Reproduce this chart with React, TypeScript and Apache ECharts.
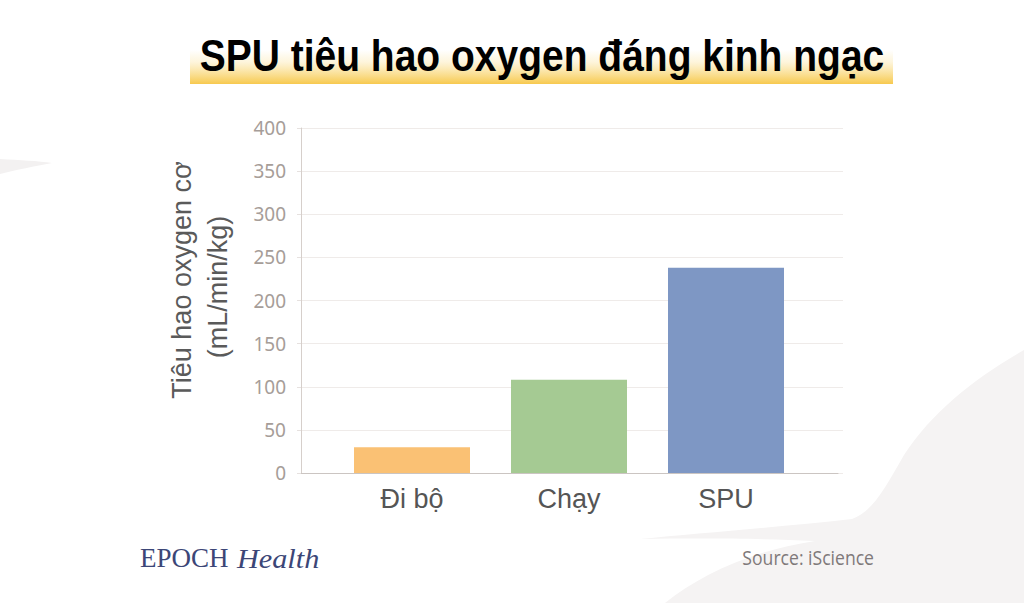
import { useEffect, useRef } from "react";
import * as echarts from "echarts";

const CATEGORIES = ["Đi bộ", "Chạy", "SPU"];
const VALUES = [30, 108, 238];
const BAR_COLORS = ["#FAC174", "#A5CA93", "#7E97C4"];
const Y_MIN = 0;
const Y_MAX = 400;
const Y_STEP = 50;

const TITLE = "SPU tiêu hao oxygen đáng kinh ngạc";
const Y_TITLE = ["Tiêu hao oxygen cơ", "(mL/min/kg)"];
const SOURCE = "Source: iScience";

// light background shapes
const BG_RIGHT =
  "M1024 350 C975 378 932 412 904 455 C884 490 872 512 852 519 C780 527 700 533 640 539 C720 538 770 539 815 541 C750 551 700 575 665 603 L1024 603 Z";
const BG_LEFT = "M0 159 C20 160 38 161 52 163 C35 166 16 170 0 174 Z";

echarts.graphic.registerShape("bgRight", echarts.graphic.extendPath(BG_RIGHT, {}));
echarts.graphic.registerShape("bgLeft", echarts.graphic.extendPath(BG_LEFT, {}));

export default function App() {
  const ref = useRef<HTMLDivElement>(null);

  useEffect(() => {
    if (!ref.current) return;
    const chart = echarts.init(ref.current, null, { renderer: "svg" });

    const hiddenY = { type: "value", min: Y_MIN, max: Y_MAX, interval: Y_STEP, show: false };

    chart.setOption({
      animation: false,
      backgroundColor: "#fff",
      graphic: [
        { type: "bgRight", z: -10, style: { fill: "#f5f3f3" } },
        { type: "bgLeft", z: -10, style: { fill: "#f3f1f1" } },
        {
          type: "rect",
          shape: { x: 190, y: 50, width: 703, height: 34 },
          style: {
            fill: new echarts.graphic.LinearGradient(0, 0, 0, 1, [
              { offset: 0, color: "rgba(249,210,100,0)" },
              { offset: 0.35, color: "rgba(249,215,115,0.25)" },
              { offset: 1, color: "#F7C94E" },
            ]),
          },
        },
        {
          type: "text",
          x: 542,
          y: 56,
          scaleY: 1.12,
          style: {
            text: TITLE,
            font: 'bold 39px "Liberation Sans", Arial, sans-serif',
            fill: "#000",
            textAlign: "center",
            textVerticalAlign: "middle",
          },
        },
        {
          type: "text",
          x: 182,
          y: 280,
          rotation: Math.PI / 2,
          style: {
            text: Y_TITLE[0],
            font: '27px "Liberation Sans", Arial, sans-serif',
            fill: "#5a5a5a",
            textAlign: "center",
            textVerticalAlign: "middle",
          },
        },
        {
          type: "text",
          x: 218,
          y: 287,
          rotation: Math.PI / 2,
          style: {
            text: Y_TITLE[1],
            font: '27px "Liberation Sans", Arial, sans-serif',
            fill: "#5a5a5a",
            textAlign: "center",
            textVerticalAlign: "middle",
          },
        },
        {
          type: "text",
          x: 140,
          y: 558,
          style: {
            text: "EPOCH",
            font: '27px "Liberation Serif", serif',
            fill: "#3c4677",
            textVerticalAlign: "middle",
          },
        },
        {
          type: "text",
          x: 237,
          y: 558,
          scaleX: 1.08,
          style: {
            text: "Health",
            font: 'italic 28px "Liberation Serif", serif',
            fill: "#3c4677",
            textVerticalAlign: "middle",
          },
        },
        {
          type: "text",
          x: 874,
          y: 558,
          scaleX: 0.88,
          style: {
            text: SOURCE,
            font: '20px "Open Sans", sans-serif',
            fill: "#7f797a",
            textAlign: "right",
            textVerticalAlign: "middle",
          },
        },
      ],
      grid: [
        { left: 301, top: 128, width: 542, height: 345 },
        { left: 301, top: 128, width: 537, height: 345 },
        { left: 333.5, top: 128, width: 471, height: 345 },
      ],
      xAxis: [
        { gridIndex: 0, type: "category", data: CATEGORIES, show: false },
        {
          gridIndex: 1,
          type: "category",
          data: CATEGORIES,
          axisLine: { lineStyle: { color: "#cbc5c2", width: 1 } },
          axisTick: { show: false },
          axisLabel: { show: false },
        },
        {
          gridIndex: 2,
          type: "category",
          data: CATEGORIES,
          axisLine: { show: false },
          axisTick: { show: false },
          axisLabel: {
            margin: 12,
            fontSize: 27,
            color: "#555",
            fontFamily: "Liberation Sans",
          },
        },
      ],
      yAxis: [
        {
          gridIndex: 0,
          type: "value",
          min: Y_MIN,
          max: Y_MAX,
          interval: Y_STEP,
          axisLine: { show: true, lineStyle: { color: "#d6cfcb" } },
          axisTick: { show: true, length: 4, lineStyle: { color: "#e6e1df" } },
          splitLine: { lineStyle: { color: "#efebe9" } },
          axisLabel: { margin: 15, fontSize: 19, color: "#a69d98", fontFamily: "Noto Sans" },
        },
        { gridIndex: 1, ...hiddenY },
        { gridIndex: 2, ...hiddenY },
      ],
      series: [
        {
          type: "bar",
          xAxisIndex: 2,
          yAxisIndex: 2,
          barWidth: 116,
          data: VALUES.map((v, i) => ({ value: v, itemStyle: { color: BAR_COLORS[i] } })),
        },
      ],
    });

    return () => chart.dispose();
  }, []);

  return (
    <div
      ref={ref}
      style={{ position: "absolute", left: 0, top: 0, width: "1024px", height: "603px", background: "#fff" }}
    />
  );
}
